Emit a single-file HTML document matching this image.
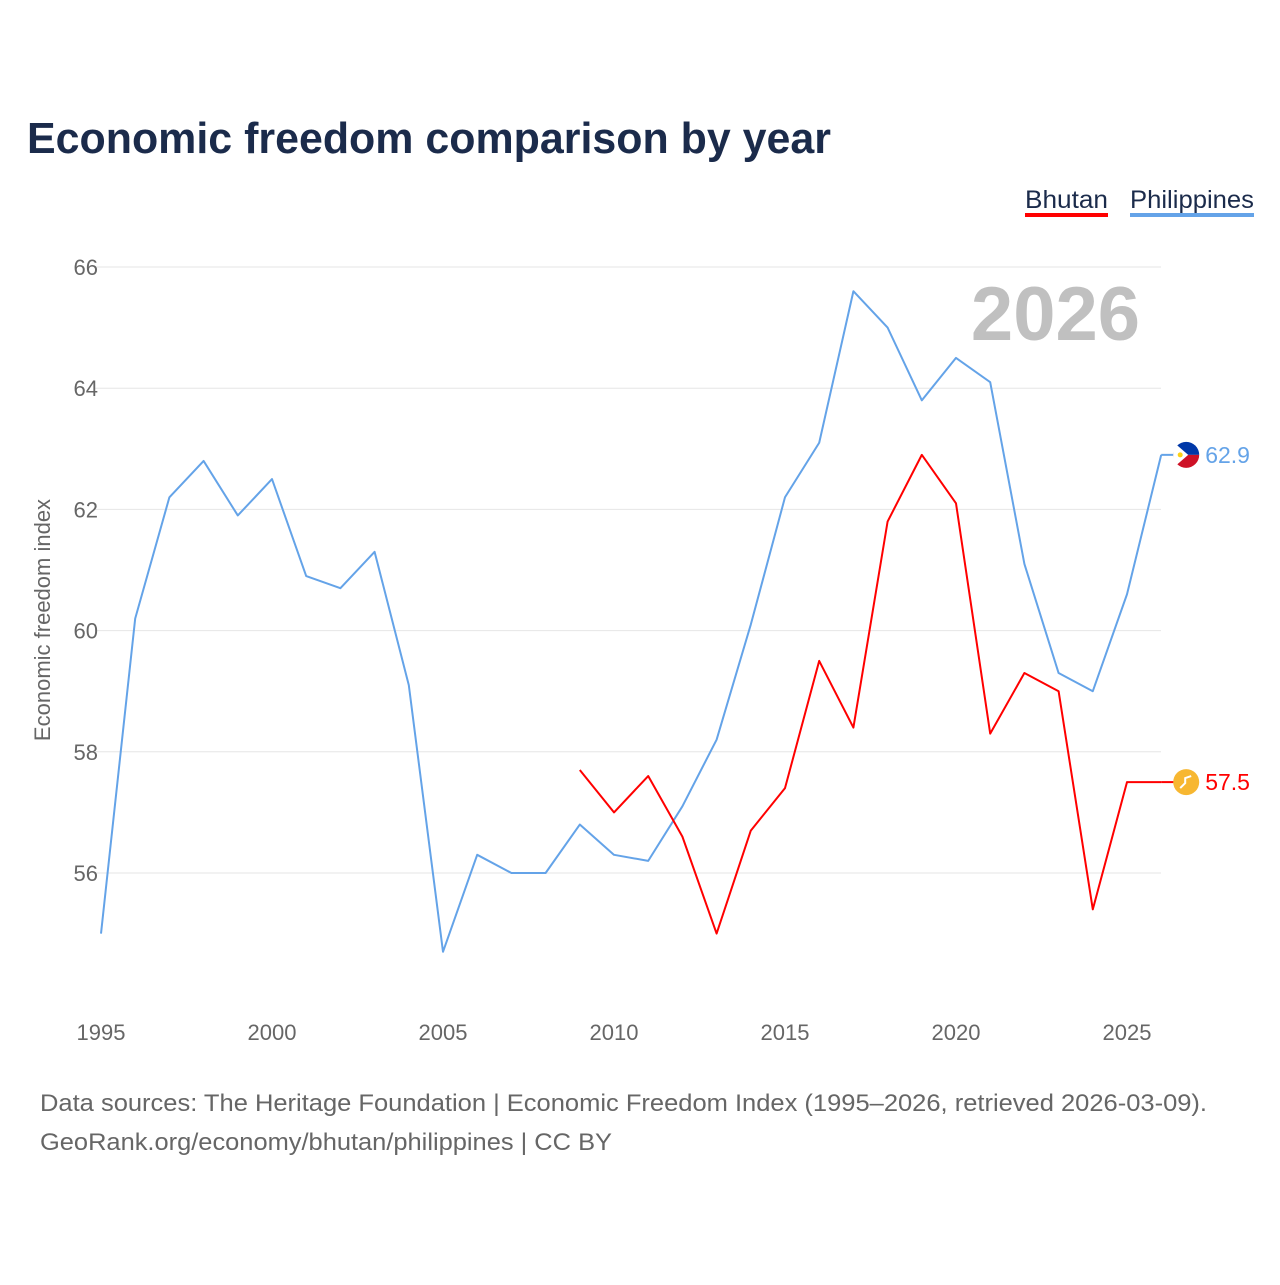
<!DOCTYPE html>
<html><head><meta charset="utf-8"><style>
body{margin:0;background:#fff;width:1280px;height:1280px;overflow:hidden;font-family:"Liberation Sans",sans-serif}
</style></head><body>
<svg width="1280" height="1280" id="chart" style="font-family:'Liberation Sans',sans-serif">
<text x="27" y="153" font-size="44" font-weight="bold" fill="#1b2b4b" textLength="804" lengthAdjust="spacingAndGlyphs">Economic freedom comparison by year</text>
<g>
<text x="1025" y="208" font-size="25" fill="#1b2b4b" textLength="83" lengthAdjust="spacingAndGlyphs">Bhutan</text>
<rect x="1025" y="213" width="83" height="4" fill="#ff0000"/>
<text x="1130" y="208" font-size="25" fill="#1b2b4b" textLength="124" lengthAdjust="spacingAndGlyphs">Philippines</text>
<rect x="1130" y="213" width="124" height="4" fill="#64a3e8"/>
</g>
<text x="1140" y="340" font-size="76" font-weight="bold" fill="#c0c0c0" text-anchor="end">2026</text>
<text transform="translate(50,620) rotate(-90)" font-size="22" fill="#666" text-anchor="middle">Economic freedom index</text>
<g id="grid"></g><g id="lines"></g>
<text x="40" y="1111" font-size="24" fill="#666" textLength="1167" lengthAdjust="spacingAndGlyphs">Data sources: The Heritage Foundation | Economic Freedom Index (1995–2026, retrieved 2026-03-09).</text>
<text x="40" y="1150" font-size="24" fill="#666" textLength="572" lengthAdjust="spacingAndGlyphs">GeoRank.org/economy/bhutan/philippines | CC BY</text>
</svg>
<script>
const years=[1995,1996,1997,1998,1999,2000,2001,2002,2003,2004,2005,2006,2007,2008,2009,2010,2011,2012,2013,2014,2015,2016,2017,2018,2019,2020,2021,2022,2023,2024,2025,2026];
const philippines=[55.0,60.2,62.2,62.8,61.9,62.5,60.9,60.7,61.3,59.1,54.7,56.3,56.0,56.0,56.8,56.3,56.2,57.1,58.2,60.1,62.2,63.1,65.6,65.0,63.8,64.5,64.1,61.1,59.3,59.0,60.6,62.9];
const bhutanYears=[2009,2010,2011,2012,2013,2014,2015,2016,2017,2018,2019,2020,2021,2022,2023,2024,2025,2026];
const bhutan=[57.7,57.0,57.6,56.6,55.0,56.7,57.4,59.5,58.4,61.8,62.9,62.1,58.3,59.3,59.0,55.4,57.5,57.5];
const yTicks=[56,58,60,62,64,66];
const xTicks=[1995,2000,2005,2010,2015,2020,2025];
const NS='http://www.w3.org/2000/svg';
const X=y=>101+(y-1995)*34.2;
const Y=v=>873-(v-56)*60.6;
function mk(t,a,p){const e=document.createElementNS(NS,t);for(const k in a)e.setAttribute(k,a[k]);p.appendChild(e);return e;}
const g=document.getElementById('grid');
yTicks.forEach(t=>{
 const l=mk('line',{x1:95,x2:1161,y1:Y(t),y2:Y(t),stroke:'#e6e6e6','stroke-width':1},g);
 
 
 const tx=mk('text',{x:98,y:Y(t)+8,'font-size':22,fill:'#666','text-anchor':'end'},g);tx.textContent=t;
 
 
});
xTicks.forEach(t=>{
 const tx=mk('text',{x:X(t),y:1040,'font-size':22,fill:'#666','text-anchor':'middle'},g);tx.textContent=t;
 
 
});
const L=document.getElementById('lines');
function line(xs,vs,c,name,flag){
 const p=mk('polyline',{points:xs.map((x,i)=>X(x)+','+Y(vs[i])).join(' '),fill:'none',stroke:c,'stroke-width':2,'stroke-linejoin':'round'},L);
 
 
 const lx=X(xs[xs.length-1]),ly=Y(vs[vs.length-1]);
 mk('line',{x1:lx,x2:lx+14,y1:ly,y2:ly,stroke:c,'stroke-width':2},L);
 const cx=lx+25,r=13;
 const gm=mk('g',{},L);
 
 
 if(flag==='ph'){
  mk('path',{d:`M${cx-r},${ly} A${r},${r} 0 0 1 ${cx+r},${ly} Z`,fill:'#0038a8'},gm);
  mk('path',{d:`M${cx-r},${ly} A${r},${r} 0 0 0 ${cx+r},${ly} Z`,fill:'#ce1126'},gm);
  mk('path',{d:`M${cx-r},${ly-r} L${cx+2},${ly} L${cx-r},${ly+r} Z`,fill:'#fff'},gm);
  mk('circle',{cx:cx-6,cy:ly,r:2.5,fill:'#fcd116'},gm);
 } else {
  mk('circle',{cx:cx,cy:ly,r:r,fill:'#f7b731'},gm);
  mk('path',{d:`M${cx-6},${ly+6} L${cx-1},${ly+1} L${cx-1},${ly-4} L${cx+5},${ly-6}`,fill:'none',stroke:'#fff','stroke-width':2},gm);
 }
 const t=mk('text',{x:lx+44,y:ly+8,'font-size':23,fill:c},L);t.textContent=vs[vs.length-1].toFixed(1);
 
 
}
line(years,philippines,'#64a3e8','philippines-line','ph');
line(bhutanYears,bhutan,'#ff0000','bhutan-line','bt');
</script>
</body></html>
